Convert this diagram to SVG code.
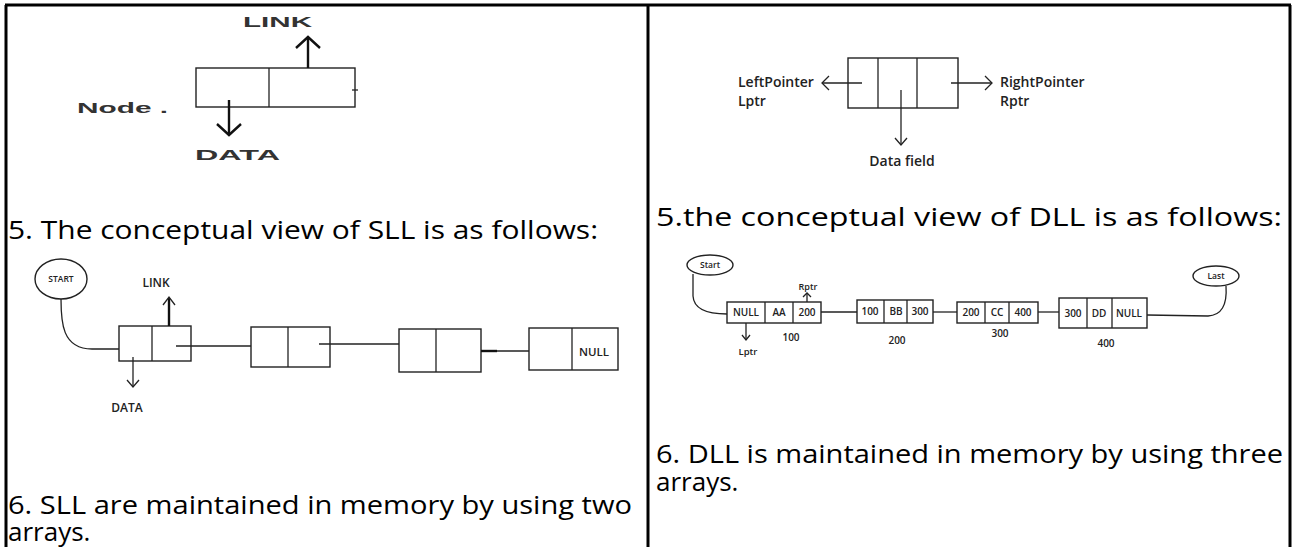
<svg xmlns="http://www.w3.org/2000/svg" width="1296" height="547" viewBox="0 0 1296 547">
<style>
.frame{stroke:#000;stroke-width:3;fill:none}
.ln{stroke:#222;stroke-width:1.3;fill:none}
.thk{stroke:#111;stroke-width:2.4;fill:none}
.bx{fill:#fff;stroke:#222;stroke-width:1.4}
.h{font-family:"Open Sans","Liberation Sans",sans-serif;font-size:26px;fill:#000}
.ar{font-family:"Liberation Sans",Arial,sans-serif;font-weight:bold;fill:#333}
.lb{font-family:"Open Sans","Liberation Sans",sans-serif;font-weight:600;fill:#222}
.c{text-anchor:middle}
</style>
<rect width="1296" height="547" fill="#fff"/>
<g id="frame">
<line class="frame" x1="5" y1="5" x2="1291" y2="5"/>
<line class="frame" x1="6" y1="5" x2="6" y2="547"/>
<line class="frame" x1="648" y1="5" x2="648" y2="547"/>
<line class="frame" x1="1290" y1="5" x2="1290" y2="547"/>
</g>

<!-- Left top: node structure -->
<g id="sll-node">
<rect class="bx" x="196" y="68" width="159" height="39"/>
<line class="ln" x1="269" y1="68" x2="269" y2="107"/>
<line class="ln" x1="352" y1="90" x2="358" y2="90"/>
<line class="thk" x1="308" y1="68" x2="308" y2="38"/>
<polyline class="thk" points="296,48 308,37 320,48"/>
<line class="thk" x1="229" y1="100" x2="229" y2="134"/>
<polyline class="thk" points="217,124 229,135 241,124"/>
<text class="ar" x="243" y="27" font-size="14" textLength="69" lengthAdjust="spacingAndGlyphs">LINK</text>
<text class="ar" x="77" y="113" font-size="14" textLength="91" lengthAdjust="spacingAndGlyphs">Node .</text>
<text class="ar" x="195" y="160" font-size="14" textLength="85" lengthAdjust="spacingAndGlyphs">DATA</text>
</g>

<text class="h" x="8" y="239" textLength="590" lengthAdjust="spacingAndGlyphs">5. The conceptual view of SLL is as follows:</text>

<!-- SLL chain -->
<g id="sll-start">
<ellipse class="bx" cx="61" cy="279" rx="26" ry="20"/>
<text class="lb c" x="61" y="282" font-size="8.5">START</text>
</g>
<g id="sll-box1">
<rect class="bx" x="119" y="326" width="72" height="35"/>
<line class="ln" x1="152" y1="326" x2="152" y2="361"/>
<line class="thk" x1="169" y1="326" x2="169" y2="298" stroke-width="2"/>
<polyline class="ln" points="163,305 169,297 175,305" stroke-width="1.8"/>
<text class="lb c" x="156" y="287" font-size="12">LINK</text>
<line class="ln" x1="133" y1="357" x2="133" y2="387" stroke-width="1.8"/>
<polyline class="ln" points="127,380 133,387 139,380" stroke-width="1.8"/>
<text class="lb c" x="127" y="412" font-size="12">DATA</text>
</g>
<g id="sll-box2">
<rect class="bx" x="251" y="327" width="79" height="40"/>
<line class="ln" x1="288" y1="327" x2="288" y2="367"/>
</g>
<g id="sll-box3">
<rect class="bx" x="399" y="329" width="82" height="43"/>
<line class="ln" x1="436" y1="329" x2="436" y2="372"/>
</g>
<g id="sll-box4">
<rect class="bx" x="529" y="328" width="89" height="42"/>
<line class="ln" x1="572" y1="328" x2="572" y2="370"/>
<text class="lb c" x="594" y="356" font-size="11.5">NULL</text>
</g>

<!-- Right top: DLL node structure -->
<g id="dll-node">
<rect class="bx" x="848" y="58" width="110" height="50"/>
<line class="ln" x1="878" y1="58" x2="878" y2="108"/>
<line class="ln" x1="917" y1="58" x2="917" y2="108"/>
<text class="lb" x="738" y="87" font-size="14">LeftPointer</text>
<text class="lb" x="738" y="106" font-size="14">Lptr</text>
<text class="lb" x="1000" y="87" font-size="14">RightPointer</text>
<text class="lb" x="1000" y="106" font-size="14">Rptr</text>
<text class="lb c" x="902" y="166" font-size="14">Data field</text>
</g>

<text class="h" x="656" y="226" textLength="626" lengthAdjust="spacingAndGlyphs">5.the conceptual view of DLL is as follows:</text>

<!-- DLL chain -->
<g id="dll-start">
<ellipse class="bx" cx="710" cy="265" rx="23" ry="10"/>
<text class="lb c" x="710" y="268" font-size="8.5">Start</text>
</g>
<g id="dll-node100">
<rect class="bx" x="727" y="302" width="94" height="21"/>
<line class="ln" x1="765" y1="302" x2="765" y2="323"/>
<line class="ln" x1="793" y1="302" x2="793" y2="323"/>
<text class="lb c" x="746" y="316" font-size="10">NULL</text>
<text class="lb c" x="779" y="316" font-size="10">AA</text>
<text class="lb c" x="807" y="316" font-size="10">200</text>
<text class="lb c" x="808" y="290" font-size="9">Rptr</text>
<text class="lb c" x="748" y="355" font-size="9.5">Lptr</text>
<text class="lb c" x="791" y="341" font-size="10">100</text>
</g>
<g id="dll-node200">
<rect class="bx" x="857" y="300" width="76" height="23"/>
<line class="ln" x1="884" y1="300" x2="884" y2="323"/>
<line class="ln" x1="907" y1="300" x2="907" y2="323"/>
<text class="lb c" x="870" y="315" font-size="10">100</text>
<text class="lb c" x="896" y="315" font-size="10">BB</text>
<text class="lb c" x="920" y="315" font-size="10">300</text>
<text class="lb c" x="897" y="344" font-size="10">200</text>
</g>
<g id="dll-node300">
<rect class="bx" x="957" y="302" width="81" height="21"/>
<line class="ln" x1="985" y1="302" x2="985" y2="323"/>
<line class="ln" x1="1009" y1="302" x2="1009" y2="323"/>
<text class="lb c" x="971" y="316" font-size="10">200</text>
<text class="lb c" x="997" y="316" font-size="10">CC</text>
<text class="lb c" x="1023" y="316" font-size="10">400</text>
<text class="lb c" x="1000" y="337" font-size="10">300</text>
</g>
<g id="dll-node400">
<rect class="bx" x="1059" y="298" width="88" height="30"/>
<line class="ln" x1="1087" y1="298" x2="1087" y2="328"/>
<line class="ln" x1="1112" y1="298" x2="1112" y2="328"/>
<text class="lb c" x="1073" y="317" font-size="10">300</text>
<text class="lb c" x="1099" y="317" font-size="10">DD</text>
<text class="lb c" x="1129" y="317" font-size="10">NULL</text>
<text class="lb c" x="1106" y="347" font-size="10">400</text>
</g>
<g id="dll-last">
<ellipse class="bx" cx="1216" cy="276" rx="23" ry="10"/>
<text class="lb c" x="1216" y="279" font-size="8.5">Last</text>
</g>

<g id="connectors">
<path class="ln" d="M61,299 C61,322 62,349 92,349 L119,349"/>
<line class="ln" x1="176" y1="346" x2="251" y2="346"/>
<line class="ln" x1="319" y1="344" x2="399" y2="344"/>
<line class="ln" x1="481" y1="351" x2="529" y2="351"/>
<line class="thk" x1="481" y1="351" x2="497" y2="351"/>
<line class="ln" x1="862" y1="83" x2="822" y2="83"/>
<polyline class="ln" points="829,76 822,83 829,90"/>
<line class="ln" x1="951" y1="83" x2="992" y2="83"/>
<polyline class="ln" points="985,76 992,83 985,90"/>
<line class="ln" x1="901" y1="90" x2="901" y2="145"/>
<polyline class="ln" points="895,138 901,145 907,138"/>
<path class="ln" d="M693,274 L693,296 Q694,314 727,314"/>
<line class="ln" x1="807" y1="302" x2="807" y2="293"/>
<polyline class="ln" points="803,297 807,293 811,297"/>
<line class="ln" x1="746" y1="323" x2="746" y2="340"/>
<polyline class="ln" points="742,335 746,340 750,335"/>
<line class="ln" x1="821" y1="312" x2="857" y2="312"/>
<line class="ln" x1="933" y1="312" x2="957" y2="312"/>
<line class="ln" x1="1038" y1="312" x2="1059" y2="312"/>
<path class="ln" d="M1147,315 L1208,316 Q1228,315 1226,286"/>
</g>

<text class="h" x="8" y="514" textLength="624" lengthAdjust="spacingAndGlyphs">6. SLL are maintained in memory by using two</text>
<text class="h" x="8" y="541">arrays.</text>
<text class="h" x="656" y="463" textLength="627" lengthAdjust="spacingAndGlyphs">6. DLL is maintained in memory by using three</text>
<text class="h" x="656" y="491">arrays.</text>
</svg>
